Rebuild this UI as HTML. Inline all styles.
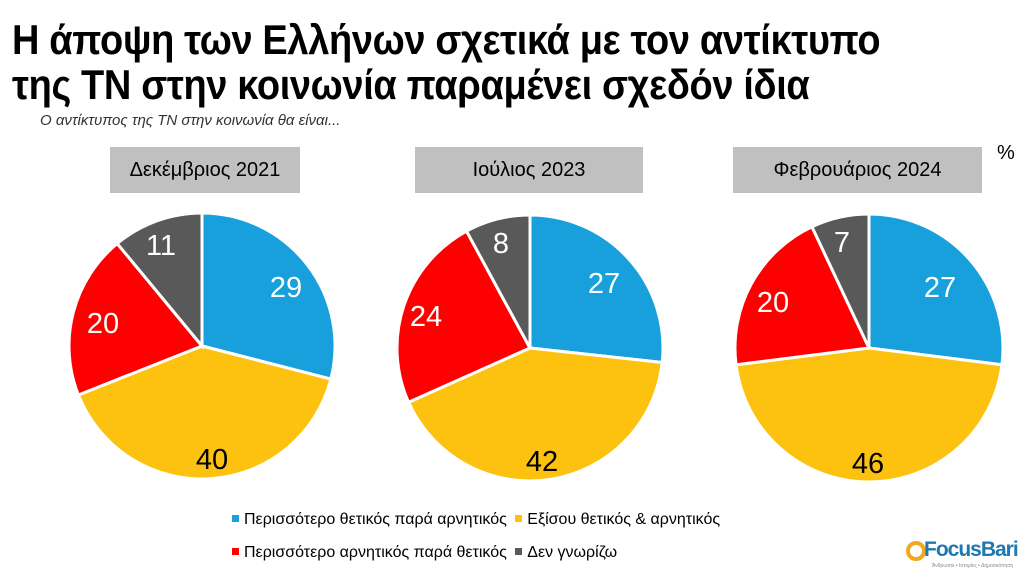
<!DOCTYPE html>
<html><head><meta charset="utf-8"><style>
body{margin:0;background:#fff;width:1024px;height:579px;overflow:hidden;position:relative;font-family:"Liberation Sans Narrow","Liberation Sans",sans-serif}
.t{position:absolute;left:12px;font-weight:bold;font-size:42px;color:#000;white-space:nowrap;transform-origin:0 0;letter-spacing:-0.4px;line-height:1}
.box{position:absolute;background:#c0c0c0;top:147px;height:46px;display:flex;align-items:center;justify-content:center;font-size:20px;color:#000}
.lg{position:absolute;font-size:16px;color:#000;white-space:nowrap}
.sq{display:inline-block;width:7px;height:7px;margin-right:5px;vertical-align:2px}
</style></head><body>
<div class="t" style="top:19px;transform:scaleX(0.905)">Η άποψη των Ελλήνων σχετικά με τον αντίκτυπο</div>
<div class="t" style="top:64px;transform:scaleX(0.905)">της ΤΝ στην κοινωνία παραμένει σχεδόν ίδια</div>
<div style="position:absolute;left:40px;top:112px;font-size:15px;font-style:italic;color:#333">Ο αντίκτυπος της ΤΝ στην κοινωνία θα είναι...</div>
<div class="box" style="left:110px;width:190px">Δεκέμβριος 2021</div>
<div class="box" style="left:415px;width:228px">Ιούλιος 2023</div>
<div class="box" style="left:733px;width:249px">Φεβρουάριος 2024</div>
<div style="position:absolute;left:997px;top:142px;font-size:20px">%</div>
<svg id="s" width="1024" height="579" style="position:absolute;left:0;top:0" font-family="Liberation Sans, sans-serif" font-size="29"></svg>
<div class="lg" style="left:232px;top:511px"><span class="sq" style="background:#18a0dd"></span>Περισσότερο θετικός παρά αρνητικός <span class="sq" style="background:#fdc20f;margin-left:4px"></span>Εξίσου θετικός &amp; αρνητικός</div>
<div class="lg" style="left:232px;top:544px"><span class="sq" style="background:#fe0000"></span>Περισσότερο αρνητικός παρά θετικός <span class="sq" style="background:#595959;margin-left:4px"></span>Δεν γνωρίζω</div>
<div style="position:absolute;left:906px;top:541px;width:20px;height:20px;border:4px solid #f6a81d;border-radius:50%;box-sizing:border-box"></div>
<div style="position:absolute;left:924px;top:538px;font-size:21px;font-weight:bold;color:#1e78b4;letter-spacing:-1px">FocusBari</div>
<div style="position:absolute;left:932px;top:563px;font-size:5px;color:#888">Άνθρωποι • Ιστορίες • Δημοσκόπηση</div>
<script>
var s=document.getElementById('s'),ns='http://www.w3.org/2000/svg',cols=['#18a0dd','#fdc20f','#fe0000','#595959'];
var pies=[{cx:202,cy:346,r:133,v:[29,40,20,11],l:[[286,287],[212,459],[103,323],[161,245]]},
{cx:530,cy:348,r:133,v:[27,42,24,8],l:[[604,283],[542,461],[426,316],[501,243]]},
{cx:869,cy:348,r:134,v:[27,46,20,7],l:[[940,287],[868,463],[773,302],[842,242]]}];
pies.forEach(function(p){var tot=p.v.reduce(function(a,b){return a+b}),a=0;
p.v.forEach(function(v,i){var a0=a,a1=a+v/tot*2*Math.PI;a=a1;
var x0=p.cx+p.r*Math.sin(a0),y0=p.cy-p.r*Math.cos(a0),x1=p.cx+p.r*Math.sin(a1),y1=p.cy-p.r*Math.cos(a1);
var e=document.createElementNS(ns,'path');
e.setAttribute('d','M'+p.cx+','+p.cy+'L'+x0+','+y0+'A'+p.r+','+p.r+' 0 '+((a1-a0)>Math.PI?1:0)+' 1 '+x1+','+y1+'Z');
e.setAttribute('fill',cols[i]);e.setAttribute('stroke','#fff');e.setAttribute('stroke-width','3');s.appendChild(e);});
p.v.forEach(function(v,i){var t=document.createElementNS(ns,'text');t.setAttribute('x',p.l[i][0]);t.setAttribute('y',p.l[i][1]+10);
t.setAttribute('text-anchor','middle');t.setAttribute('fill',i==1?'#000':'#fff');t.textContent=v;s.appendChild(t);});});
</script>
</body></html>
